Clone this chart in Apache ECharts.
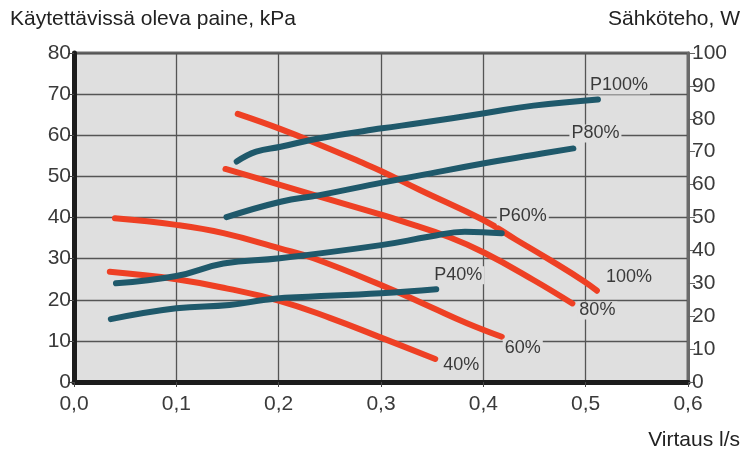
<!DOCTYPE html>
<html>
<head>
<meta charset="utf-8">
<script src="https://cdn.jsdelivr.net/npm/echarts@6/dist/echarts.min.js"></script>
<style>
  html, body { margin: 0; padding: 0; background: #ffffff; }
  #chart { width: 744px; height: 450px; }
</style>
</head>
<body>
<div id="chart"></div>
<script>
// Pump curves: available pressure (kPa, left axis) and electrical power (W, right axis) vs. flow (l/s)

// Pressure curves (red), flow l/s -> kPa
const flow100 = [0.160, 0.202, 0.240, 0.279, 0.301, 0.338, 0.400, 0.432, 0.465, 0.499, 0.511];
const pres100 = [65.2, 61.5, 57.7, 53.6, 51.2, 46.7, 39.4, 34.6, 29.7, 24.4, 22.2];

const flow80 = [0.148, 0.202, 0.240, 0.300, 0.318, 0.367, 0.402, 0.449, 0.487];
const pres80 = [51.8, 47.9, 45.1, 40.7, 39.3, 35.2, 31.3, 24.8, 19.1];

const flow60 = [0.040, 0.100, 0.146, 0.201, 0.234, 0.300, 0.348, 0.384, 0.418];
const pres60 = [39.8, 38.2, 36.2, 32.5, 30.1, 23.6, 18.3, 14.3, 11.0];

const flow40 = [0.035, 0.100, 0.150, 0.200, 0.250, 0.300, 0.353];
const pres40 = [26.8, 25.0, 22.7, 19.8, 15.6, 10.8, 5.6];

// Power curves (teal), flow l/s -> W
const flowP100 = [0.159, 0.178, 0.202, 0.240, 0.301, 0.338, 0.401, 0.449, 0.512];
const powP100  = [67.0, 70.0, 71.5, 74.1, 77.1, 78.7, 81.7, 84.0, 85.9];

const flowP80 = [0.149, 0.202, 0.240, 0.301, 0.338, 0.401, 0.449, 0.488];
const powP80  = [50.1, 54.8, 56.8, 60.6, 62.8, 66.5, 69.0, 71.0];

const flowP60 = [0.041, 0.100, 0.146, 0.201, 0.300, 0.348, 0.382, 0.418];
const powP60  = [30.0, 32.2, 36.0, 37.6, 41.6, 44.2, 45.7, 45.2];

const flowP40 = [0.036, 0.100, 0.152, 0.185, 0.206, 0.300, 0.354];
const powP40  = [19.1, 22.4, 23.4, 24.9, 25.6, 27.0, 28.2];

// Axis ticks
const flowTicks = [0, 0.1, 0.2, 0.3, 0.4, 0.5, 0.6];
const pressureMax = 80, pressureStep = 10;
const powerMax = 100, powerStep = 10;

const RED = '#ee4024';
const TEAL = '#1f596b';
const TEXT = '#3a3a3a';
const PLOT_BG = '#dfdfdf';
const FONT = '"Liberation Sans Narrow", "Liberation Sans", sans-serif';

function pairs(xs, ys) { return xs.map((x, i) => [x, ys[i]]); }

function curve(name, xs, ys, color, axis, offset) {
  return {
    name: name,
    type: 'line',
    yAxisIndex: axis,
    data: pairs(xs, ys),
    smooth: 0.45,
    showSymbol: false,
    symbol: 'none',
    silent: true,
    animation: false,
    z: axis === 1 ? 4 : 3,
    lineStyle: { color: color, width: 6, cap: 'round', join: 'round' },
    endLabel: {
      show: true,
      formatter: name,
      distance: 0,
      offset: offset,
      color: TEXT,
      fontFamily: FONT,
      fontSize: 18,
      backgroundColor: PLOT_BG,
      padding: [0, 2]
    }
  };
}

const chart = echarts.init(document.getElementById('chart'), null, { renderer: 'canvas' });

chart.setOption({
  backgroundColor: '#ffffff',
  animation: false,
  textStyle: { fontFamily: FONT },
  grid: {
    left: 74, right: 56, top: 53, bottom: 68,
    show: true,
    backgroundColor: PLOT_BG,
    borderColor: '#6a6a6a',
    borderWidth: 3
  },
  xAxis: {
    type: 'value',
    min: flowTicks[0],
    max: flowTicks[flowTicks.length - 1],
    interval: 0.1,
    axisLine: { show: true, onZero: false, lineStyle: { color: '#1c1c1c', width: 5 } },
    axisTick: { show: true, length: 5, lineStyle: { color: '#444', width: 1 } },
    axisLabel: {
      color: TEXT, fontSize: 21, fontFamily: FONT, margin: 12,
      formatter: v => v.toFixed(1).replace('.', ',')
    },
    splitLine: { show: true, lineStyle: { color: '#555', width: 1.3 } }
  },
  yAxis: [
    {
      type: 'value',
      min: 0, max: pressureMax, interval: pressureStep,
      position: 'left',
      axisLine: { show: true, lineStyle: { color: '#1c1c1c', width: 5 } },
      axisTick: { show: true, length: 6, lineStyle: { color: '#444', width: 1 } },
      axisLabel: { color: TEXT, fontSize: 21, fontFamily: FONT, margin: 3 },
      splitLine: { show: true, lineStyle: { color: '#555', width: 1.3 } }
    },
    {
      type: 'value',
      min: 0, max: powerMax, interval: powerStep,
      position: 'right',
      axisLine: { show: true, lineStyle: { color: '#6a6a6a', width: 3 } },
      axisTick: { show: true, length: 7, lineStyle: { color: '#666', width: 1 } },
      axisLabel: { color: TEXT, fontSize: 21, fontFamily: FONT, margin: 4 },
      splitLine: { show: false }
    }
  ],
  graphic: [
    { type: 'text', left: 10, top: 9,
      style: { text: 'Käytettävissä oleva paine, kPa', fill: '#222', font: '21px ' + FONT } },
    { type: 'text', right: 4, top: 9,
      style: { text: 'Sähköteho, W', fill: '#222', font: '21px ' + FONT } },
    { type: 'text', right: 4, top: 430,
      style: { text: 'Virtaus l/s', fill: '#222', font: '21px ' + FONT } }
  ],
  series: [
    curve('100%', flow100, pres100, RED, 0, [7, -14]),
    curve('80%', flow80, pres80, RED, 0, [5, 7]),
    curve('60%', flow60, pres60, RED, 0, [1, 11]),
    curve('40%', flow40, pres40, RED, 0, [6, 6]),
    curve('P100%', flowP100, powP100, TEAL, 1, [-10, -14]),
    curve('P80%', flowP80, powP80, TEAL, 1, [-4, -15]),
    curve('P60%', flowP60, powP60, TEAL, 1, [-5, -17]),
    curve('P40%', flowP40, powP40, TEAL, 1, [-4, -14])
  ]
});
</script>
</body>
</html>
